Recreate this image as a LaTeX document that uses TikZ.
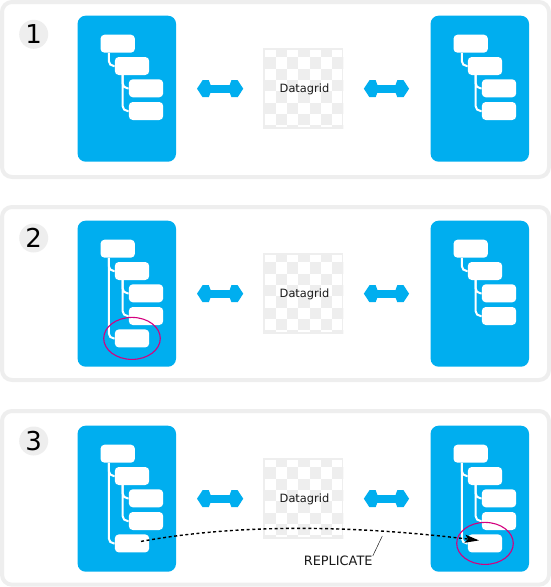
\documentclass[tikz,border=0pt]{standalone}
\usepackage{fontspec}
\setmainfont{DejaVu Sans}
\usetikzlibrary{calc, positioning, arrows.meta, shapes.geometric}
\definecolor{color_panel}{HTML}{EEEEEE}
\definecolor{color_card}{HTML}{00AEEF}
\definecolor{color_mark}{HTML}{D4007F}
\definecolor{color_text}{HTML}{1A1A1A}
\pgfdeclarearrow{
  name=SyncHead,
  setup code={\pgfarrowssettipend{0pt}\pgfarrowssetlineend{-12pt}\pgfarrowssetbackend{-13.5pt}},
  drawing code={
    \pgfpathmoveto{\pgfqpoint{0pt}{0pt}}
    \pgfpathlineto{\pgfqpoint{-5.6pt}{8.5pt}}
    \pgfpathlineto{\pgfqpoint{-11.8pt}{8.5pt}}
    \pgfpathlineto{\pgfqpoint{-13.5pt}{4pt}}
    \pgfpathlineto{\pgfqpoint{-13.5pt}{-4pt}}
    \pgfpathlineto{\pgfqpoint{-11.8pt}{-8.5pt}}
    \pgfpathlineto{\pgfqpoint{-5.6pt}{-8.5pt}}
    \pgfpathclose
    \pgfusepathqfill
  },
}
\tikzset{
  panel_frame/.style={draw=color_panel, line width=4pt, rounded corners=10pt, fill=white},
  panel_badge/.style={circle, fill=color_panel, inner sep=0pt, minimum size=29pt, font=\fontsize{26}{26}\selectfont, text=black},
  card_box/.style={fill=color_card, rounded corners=8pt, minimum width=98.4pt, minimum height=146pt, inner sep=0pt},
  tree_box/.style={fill=white, rounded corners=4pt, minimum width=34.4pt, minimum height=18pt, inner sep=0pt},
  tree_link/.style={draw=white, line width=2pt, rounded corners=5pt},
  grid_box/.style={draw=color_panel, line width=1.5pt, fill=white, minimum width=78.8pt, minimum height=79pt, inner sep=0pt},
  grid_label/.style={font=\fontsize{11.4}{12}\selectfont, text=color_text, inner sep=0pt},
  sync_link/.style={{SyncHead}-{SyncHead}, draw=color_card, line width=8pt},
  mark_ring/.style={ellipse, draw=color_mark, line width=1.1pt, minimum width=56.6pt, minimum height=42pt, inner sep=0pt},
  replicate_link/.style={-{Stealth[length=14pt, width=8pt, inset=3pt]}, draw=black, line width=1.4pt, dash pattern=on 3pt off 2.6pt},
  replicate_label/.style={font=\fontsize{12.9}{13}\selectfont, text=color_text, inner sep=0pt},
}
% one blue card with its tree
\newcommand{\treecard}[3]{
  \begin{scope}[shift={(#2,#3)}]
    \node[card_box] (card#1) at (126.8,88.7) {};
    \node[tree_box] (root#1) at (117.7,43.7) {};
    \node[tree_box] (child#1) at (132,66) {};
    \node[tree_box] (leafa#1) at (146,88.3) {};
    \node[tree_box] (leafb#1) at (146,111) {};
    \draw[tree_link] ([xshift=8.5pt]root#1.south west) |- (child#1.west);
    \draw[tree_link] ([xshift=8pt]child#1.south west) |- (leafa#1.west);
    \draw[tree_link] ([xshift=8pt]child#1.south west) |- (leafb#1.west);
  \end{scope}
}
% fifth box, hung from the root
\newcommand{\extrabox}[1]{
  \node[tree_box, below=4pt of leafb#1, xshift=-14pt] (extra#1) {};
  \draw[tree_link] ([xshift=8.5pt]root#1.south west) |- (extra#1.west);
}
\begin{document}
\begin{tikzpicture}[x=1pt, y=-1pt]
  \useasboundingbox (0,0) rectangle (551,587);
  \foreach \p/\off/\ptop/\pbot/\by in {1/0/2/177/34.3, 2/205/207/380/238, 3/410/411/584.7/441} {
    \draw[panel_frame] (2,\ptop) rectangle (549,\pbot);
    \node[panel_badge] (badge\p) at (33.7,\by) {\p};
    \treecard{L\p}{0}{\off}
    \treecard{R\p}{353}{\off}
    % checkered datagrid
    \node[grid_box] (grid\p) at (303.2,88.7+\off) {};
    \begin{scope}
      \clip (grid\p.south west) rectangle (grid\p.north east);
      \foreach \i in {0,...,6} {
        \foreach \j in {0,...,7} {
          \pgfmathparse{int(mod(\i+\j,2))}
          \ifnum\pgfmathresult=1
            \fill[color_panel] (264.3+11.35*\i,45.8+11.35*\j+\off) rectangle ++(11.35,11.35);
          \fi
        }
      }
    \end{scope}
    \node[grid_label] (gridtext\p) at ([xshift=1.3pt,yshift=-0.8pt]grid\p.center) {Datagrid};
    \draw[sync_link, shorten <=20.8pt, shorten >=19.8pt] (cardL\p.east) -- (grid\p.west);
    \draw[sync_link, shorten <=20.5pt, shorten >=21.3pt] (grid\p.east) -- (cardR\p.west);
  }
  \extrabox{L2}
  \extrabox{L3}
  \extrabox{R3}
  \node[mark_ring] (ringL2) at (extraL2) {};
  \node[mark_ring] (ringR3) at (extraR3) {};
  % replicate arrow
  \draw[replicate_link] ([xshift=9pt,yshift=2pt]extraL3.center)
    .. controls +(94,-17) and +(-133,-16) .. ([xshift=-6pt,yshift=3pt]extraR3.center);
  \node[replicate_label] (replicate) at (338.2,561) {REPLICATE};
  \coordinate (replicate_point) at (382.3,536);
  \draw[line width=0.5pt, draw=color_text] (replicate.north east) -- (replicate_point);
\end{tikzpicture}
\end{document}
